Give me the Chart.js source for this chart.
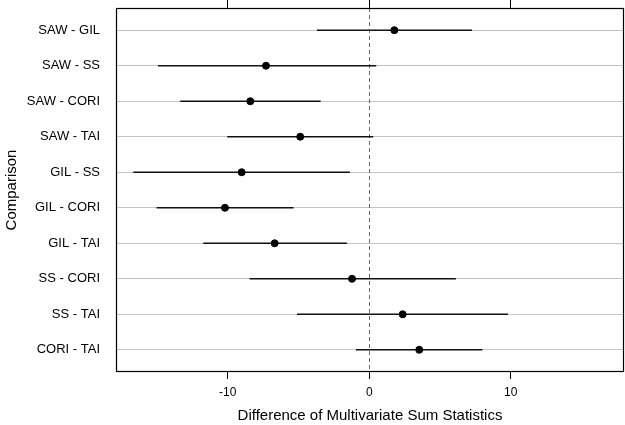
<!DOCTYPE html>
<html>
<head>
<meta charset="utf-8">
<script src="https://cdn.jsdelivr.net/npm/chart.js@4"></script>
<style>
  html, body { margin: 0; padding: 0; background: #fff; }
  #wrap { width: 625px; height: 425px; }
</style>
</head>
<body>
<div id="wrap"><canvas id="chart"></canvas></div>
<script>
const categories = ['SAW - GIL', 'SAW - SS', 'SAW - CORI', 'SAW - TAI', 'GIL - SS',
                    'GIL - CORI', 'GIL - TAI', 'SS - CORI', 'SS - TAI', 'CORI - TAI'];
const estimates = [1.77, -7.3, -8.41, -4.88, -9.02, -10.2, -6.69, -1.22, 2.36, 3.53];
const lower     = [-3.7, -14.93, -13.36, -10.04, -16.68, -15.03, -11.73, -8.46, -5.11, -0.94];
const upper     = [7.26, 0.49, -3.44, 0.28, -1.37, -5.35, -1.58, 6.12, 9.8, 7.99];
const xTicks = [-10, 0, 10];
const refValue = 0;

const FONT = "'Liberation Sans', Arial, sans-serif";

// one short line per comparison for the interval
const intervalSets = categories.map((c, i) => ({
    type: 'scatter',
    showLine: true,
    data: [{ x: lower[i], y: i + 1 }, { x: upper[i], y: i + 1 }],
    borderColor: '#111',
    borderWidth: 1.5,
    pointRadius: 0,
    order: 2
}));

const pointSet = {
    type: 'scatter',
    data: estimates.map((v, i) => ({ x: v, y: i + 1 })),
    backgroundColor: '#000',
    borderColor: '#000',
    pointRadius: 3.5,
    order: 1
};

// dashed reference line and box frame
const extras = {
    id: 'extras',
    beforeDatasetsDraw(chart) {
        const { ctx, chartArea: a, scales } = chart;
        const x = Math.round(scales.x.getPixelForValue(refValue)) + 0.5;
        ctx.save();
        ctx.strokeStyle = '#666';
        ctx.lineWidth = 1;
        ctx.setLineDash([4, 3]);
        ctx.beginPath();
        ctx.moveTo(x, a.top);
        ctx.lineTo(x, a.bottom);
        ctx.stroke();
        ctx.restore();
    },
    afterDraw(chart) {
        const { ctx, chartArea: a } = chart;
        ctx.save();
        ctx.strokeStyle = '#000';
        ctx.lineWidth = 1.2;
        ctx.strokeRect(a.left + 0.5, a.top + 0.5, a.right - a.left - 1, a.bottom - a.top - 1);
        ctx.restore();
    }
};

const setXTicks = axis => { axis.ticks = xTicks.map(v => ({ value: v })); };
const noSidePad = axis => { axis.paddingLeft = 0; axis.paddingRight = 0; };

new Chart(document.getElementById('chart'), {
    type: 'scatter',
    data: { datasets: [...intervalSets, pointSet] },
    options: {
        responsive: true,
        maintainAspectRatio: false,
        animation: false,
        layout: { autoPadding: false, padding: { left: 0, right: 1, top: 0, bottom: 0 } },
        plugins: { legend: { display: false }, tooltip: { enabled: false } },
        scales: {
            x: {
                type: 'linear',
                position: 'bottom',
                min: -17.9,
                max: 18,
                afterBuildTicks: setXTicks,
                afterFit: axis => { axis.height = 53; noSidePad(axis); },
                grid: { drawOnChartArea: false, drawTicks: true, tickLength: 7, tickColor: '#000' },
                border: { display: false },
                ticks: { color: '#000', font: { family: FONT, size: 12 }, padding: 6, maxRotation: 0 },
                title: {
                    display: true,
                    text: 'Difference of Multivariate Sum Statistics',
                    color: '#000',
                    font: { family: FONT, size: 15 },
                    padding: { top: 0, bottom: 0 }
                }
            },
            x2: {
                type: 'linear',
                position: 'top',
                min: -17.9,
                max: 18,
                afterBuildTicks: setXTicks,
                afterFit: axis => { axis.height = 8; noSidePad(axis); },
                grid: { drawOnChartArea: false, drawTicks: true, tickLength: 8, tickColor: '#000' },
                border: { display: false },
                ticks: { display: false }
            },
            y: {
                type: 'linear',
                reverse: true,
                min: 0.375,
                max: 10.625,
                afterBuildTicks: axis => { axis.ticks = categories.map((c, i) => ({ value: i + 1 })); },
                afterFit: axis => { axis.width = 116; axis.paddingTop = 0; axis.paddingBottom = 0; },
                grid: { color: '#c4c4c4', lineWidth: 1, drawTicks: false },
                border: { display: false },
                ticks: {
                    color: '#000',
                    font: { family: FONT, size: 13 },
                    padding: 16,
                    callback: v => categories[v - 1]
                },
                title: {
                    display: true,
                    text: 'Comparison',
                    color: '#000',
                    font: { family: FONT, size: 15 },
                    padding: { top: 3, bottom: 0 }
                }
            }
        }
    },
    plugins: [extras]
});
</script>
</body>
</html>
